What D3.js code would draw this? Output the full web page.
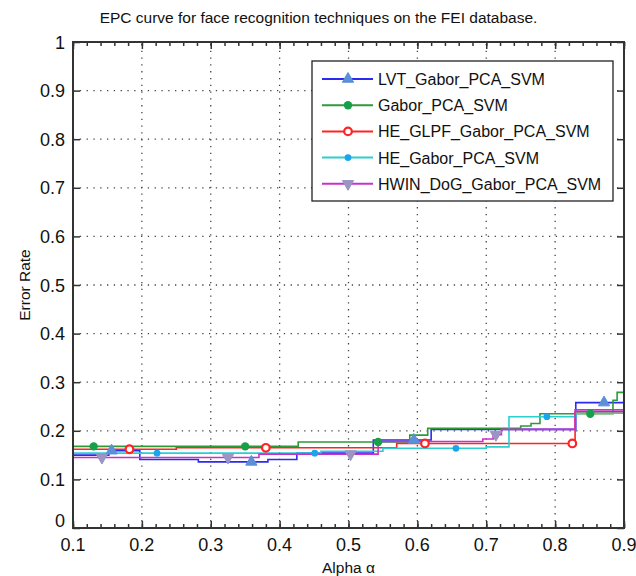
<!DOCTYPE html>
<html>
<head>
<meta charset="utf-8">
<title>EPC curve</title>
<script src="https://cdn.jsdelivr.net/npm/d3@7"></script>
<style type="text/css">
	body { margin: 0; background: #fff; }
	svg text { font-family: "Liberation Sans", Arial, sans-serif; fill: #111; }
	.grid line { stroke: #444; stroke-width: 1.3px; stroke-dasharray: 1.3,5.5; }
	.frame { fill: none; stroke: #333; stroke-width: 2px; }
	.series { fill: none; stroke-width: 1.6px; }
</style>
</head>
<body>
<script type="text/javascript">

var width = 636,
    height = 576;
var margin = {top: 42, right: 12, bottom: 48, left: 73};

// step points [alpha, error rate]
var names = ["LVT_Gabor_PCA_SVM", "Gabor_PCA_SVM", "HE_GLPF_Gabor_PCA_SVM", "HE_Gabor_PCA_SVM", "HWIN_DoG_Gabor_PCA_SVM"];
var lvt = [[0.1,0.150],[0.152,0.159],[0.197,0.141],[0.282,0.136],[0.383,0.141],[0.425,0.154],[0.536,0.181],[0.620,0.203],[0.830,0.258],[0.9,0.258]];
var gabor = [[0.1,0.168],[0.427,0.177],[0.589,0.191],[0.615,0.205],[0.750,0.210],[0.765,0.215],[0.778,0.235],[0.884,0.263],[0.89,0.279],[0.9,0.279]];
var heGlpf = [[0.1,0.162],[0.25,0.165],[0.570,0.174],[0.829,0.239],[0.9,0.239]];
var heGabor = [[0.1,0.154],[0.46,0.158],[0.55,0.164],[0.70,0.167],[0.733,0.229],[0.83,0.236],[0.9,0.236]];
var hwin = [[0.1,0.145],[0.37,0.152],[0.543,0.178],[0.695,0.183],[0.71,0.192],[0.722,0.203],[0.829,0.243],[0.9,0.243]];
// alpha positions of the markers
var lvtMarks = [0.156, 0.359, 0.595, 0.871];
var gaborMarks = [0.13, 0.35, 0.543, 0.851];
var heGlpfMarks = [0.182, 0.380, 0.611, 0.825];
var heGaborMarks = [0.222, 0.451, 0.656, 0.788];
var hwinMarks = [0.142, 0.325, 0.503, 0.714];
var xTicks = [0.1, 0.2, 0.3, 0.4, 0.5, 0.6, 0.7, 0.8, 0.9];
var yTicks = [0, 0.1, 0.2, 0.3, 0.4, 0.5, 0.6, 0.7, 0.8, 0.9, 1];

var series = [
	{name: names[0], pts: lvt, marks: lvtMarks, color: "#2b2bf0", fill: "#5b8fd8", shape: "up"},
	{name: names[1], pts: gabor, marks: gaborMarks, color: "#2e9a38", fill: "#16a04a", shape: "dot"},
	{name: names[2], pts: heGlpf, marks: heGlpfMarks, color: "#ff2424", fill: "#d01818", shape: "ring"},
	{name: names[3], pts: heGabor, marks: heGaborMarks, color: "#2ccfd0", fill: "#1aa6ef", shape: "small"},
	{name: names[4], pts: hwin, marks: hwinMarks, color: "#c832c8", fill: "#9b94c4", shape: "down"}
];

var svg = d3.select("body").append("svg").attr("width", width).attr("height", height);

var x = d3.scaleLinear().domain([0.1, 0.9]).range([margin.left, width - margin.right]);
var y = d3.scaleLinear().domain([0, 1]).range([height - margin.bottom, margin.top]);

// grid
var grid = svg.append("g").attr("class", "grid");
grid.selectAll(".gx").data(xTicks.slice(1, -1)).enter().append("line")
	.attr("x1", d => x(d)).attr("x2", d => x(d)).attr("y1", y(0)).attr("y2", y(1));
grid.selectAll(".gy").data(yTicks.slice(1, -1)).enter().append("line")
	.attr("x1", x(0.1)).attr("x2", x(0.9)).attr("y1", d => y(d)).attr("y2", d => y(d));

// lines
var line = d3.line().x(d => x(d[0])).y(d => y(d[1])).curve(d3.curveStepAfter);
var bis = d3.bisector(d => d[0]).right;
function valueAt(pts, a) { return pts[Math.max(0, bis(pts, a) - 1)][1]; }

function drawMark(g, shape, color, fill) {
	if (shape == "up") {
		g.append("path").attr("d", d3.symbol(d3.symbolTriangle, 55)()).attr("fill", fill).attr("stroke", fill);
	} else if (shape == "down") {
		g.append("path").attr("d", d3.symbol(d3.symbolTriangle, 55)()).attr("transform", "rotate(180)")
			.attr("fill", fill).attr("stroke", fill);
	} else if (shape == "dot") {
		g.append("circle").attr("r", 4.2).attr("fill", fill);
	} else if (shape == "ring") {
		g.append("circle").attr("r", 3.8).attr("fill", "#fff").attr("stroke", color).attr("stroke-width", 2.2);
	} else {
		g.append("circle").attr("r", 3.4).attr("fill", fill);
	}
}

series.forEach(function(s) {
	svg.append("path").datum(s.pts).attr("class", "series").attr("stroke", s.color).attr("d", line);
});
series.forEach(function(s) {
	s.marks.forEach(function(a) {
		var g = svg.append("g").attr("transform", "translate(" + x(a) + "," + y(valueAt(s.pts, a)) + ")");
		drawMark(g, s.shape, s.color, s.fill);
	});
});

// axes: ticks inward on all sides
var minor = d3.range(0.1, 0.9001, 0.02);
svg.append("g").attr("transform", "translate(0," + y(0) + ")")
	.call(d3.axisTop(x).tickValues(minor).tickSize(4).tickFormat(""));
svg.append("g").attr("transform", "translate(0," + y(1) + ")")
	.call(d3.axisBottom(x).tickValues(minor).tickSize(4).tickFormat(""));
svg.append("g").attr("transform", "translate(0," + y(0) + ")")
	.call(d3.axisTop(x).tickValues(xTicks).tickSize(7).tickFormat(""));
svg.append("g").attr("transform", "translate(0," + y(1) + ")")
	.call(d3.axisBottom(x).tickValues(xTicks).tickSize(7).tickFormat(""));
svg.append("g").attr("transform", "translate(" + x(0.1) + ",0)")
	.call(d3.axisRight(y).tickValues(yTicks).tickSize(7).tickFormat(""));
svg.append("g").attr("transform", "translate(" + x(0.9) + ",0)")
	.call(d3.axisLeft(y).tickValues(yTicks).tickSize(7).tickFormat(""));
svg.selectAll(".domain").remove();
svg.selectAll(".tick line").attr("stroke", "#333").attr("stroke-width", 1.5);

svg.append("rect").attr("class", "frame")
	.attr("x", x(0.1)).attr("y", y(1)).attr("width", x(0.9) - x(0.1)).attr("height", y(0) - y(1));

// tick labels
svg.selectAll(".xl").data(xTicks).enter().append("text")
	.attr("x", d => x(d)).attr("y", y(0) + 23).attr("text-anchor", "middle")
	.style("font-size", "18px").text(d => d3.format(".1f")(d));
svg.selectAll(".yl").data(yTicks).enter().append("text")
	.attr("x", x(0.1) - 8).attr("y", d => d == 0 ? y(d) - 1 : y(d) + 6.5).attr("text-anchor", "end")
	.style("font-size", "18px").text(d => d == 0 || d == 1 ? d : d3.format(".1f")(d));

// titles
svg.append("text").attr("x", (x(0.1) + x(0.9)) / 2 - 30).attr("y", 23).attr("text-anchor", "middle")
	.style("font-size", "15.5px").text("EPC curve for face recognition techniques on the FEI database.");
svg.append("text").attr("x", (x(0.1) + x(0.9)) / 2).attr("y", 573).attr("text-anchor", "middle")
	.style("font-size", "15.5px").text("Alpha \u03b1");
svg.append("text").attr("transform", "translate(30," + y(0.5) + ") rotate(-90)").attr("text-anchor", "middle")
	.style("font-size", "15.5px").text("Error Rate");

// legend
var leg = svg.append("g").attr("transform", "translate(312,61)");
leg.append("rect").attr("width", 301).attr("height", 140).attr("fill", "#fff")
	.attr("stroke", "#222").attr("stroke-width", 1.3);
series.forEach(function(s, i) {
	var g = leg.append("g").attr("transform", "translate(0," + (18 + i * 26.2) + ")");
	g.append("line").attr("x1", 10).attr("x2", 61).attr("stroke", s.color).attr("stroke-width", 2);
	drawMark(g.append("g").attr("transform", "translate(36,0)"), s.shape, s.color, s.fill);
	g.append("text").attr("x", 66).attr("y", 6).style("font-size", "16px").text(s.name);
});

</script>
</body>
</html>
